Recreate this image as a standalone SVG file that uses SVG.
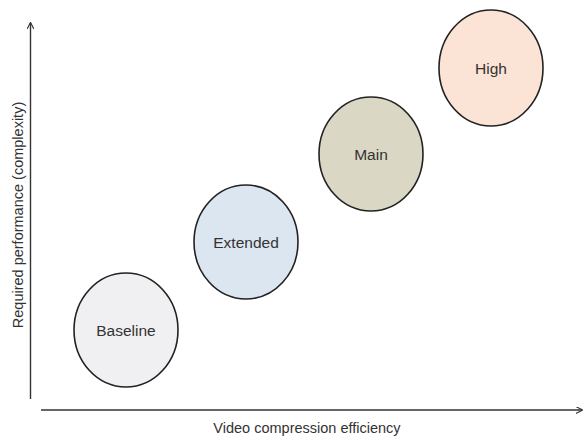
<svg xmlns="http://www.w3.org/2000/svg" width="584" height="441" viewBox="0 0 584 441">
<style>
.node ellipse{stroke:#222;stroke-width:1.6}
.lbl{font-family:"Liberation Sans",Arial,sans-serif;font-size:15.5px;fill:#333;text-anchor:middle}
.ax{font-family:"Liberation Sans",Arial,sans-serif;font-size:14.5px;fill:#333;text-anchor:middle}
.axis{stroke:#333;stroke-width:1.4;fill:none}
</style>
<defs>
<marker id="arr" viewBox="0 0 10 10" refX="9" refY="5" markerWidth="7" markerHeight="7" orient="auto" markerUnits="userSpaceOnUse">
<path d="M0,0 L10,5 L0,10" fill="none" stroke="#333" stroke-width="1.6"/>
</marker>
</defs>
<rect width="584" height="441" fill="#fff"/>
<g id="connectors">
<line class="axis" x1="30.5" y1="399" x2="30.5" y2="23" marker-end="url(#arr)"/>
<line class="axis" x1="41" y1="410" x2="582" y2="410" marker-end="url(#arr)"/>
</g>
<g id="baseline" class="node"><ellipse cx="126" cy="330" rx="52" ry="57" fill="#f0f0f2"/><text class="lbl" x="126" y="335.5">Baseline</text></g>
<g id="extended" class="node"><ellipse cx="246" cy="242" rx="52" ry="57" fill="#dce6f1"/><text class="lbl" x="246" y="247.5">Extended</text></g>
<g id="main" class="node"><ellipse cx="371" cy="154" rx="52" ry="57" fill="#dad7c4"/><text class="lbl" x="371" y="159.5">Main</text></g>
<g id="high" class="node"><ellipse cx="491" cy="68" rx="52" ry="58" fill="#fbe4d5"/><text class="lbl" x="491" y="73.5">High</text></g>
<text class="ax" x="307" y="433">Video compression efficiency</text>
<text class="ax" transform="translate(23,215) rotate(-90)">Required performance (complexity)</text>
</svg>
